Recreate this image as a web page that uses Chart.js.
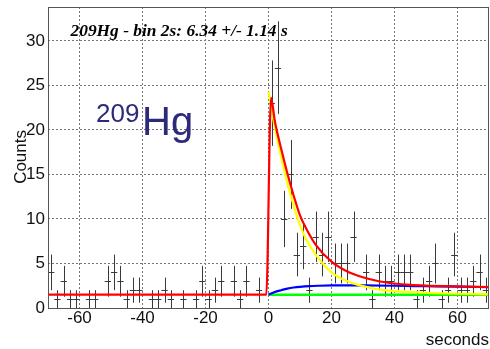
<!DOCTYPE html>
<html><head><meta charset="utf-8">
<script src="https://cdn.jsdelivr.net/npm/chart.js@4"></script>
<style>html,body{margin:0;padding:0;background:#fff}canvas{display:block}</style>
</head><body>
<canvas id="c" width="490" height="349"></canvas>
<script>
// ---- data ----
const binCenters = [-69,-67,-65,-63,-61,-59,-57,-55,-53,-51,
  -49,-47,-45,-43,-41,-39,-37,-35,-33,-31,
  -29,-27,-25,-23,-21,-19,-17,-15,-13,-11,
  -9,-7,-5,-3,-1,1,3,5,7,9,
  11,13,15,17,19,21,23,25,27,29,
  31,33,35,37,39,41,43,45,47,49,
  51,53,55,57,59,61,63,65,67,69];
const counts = [4,1,3,1,1,0,1,1,0,3,
  4,3,1,2,2,0,1,1,2,1,
  0,1,0,1,3,1,2,3,0,3,
  1,3,0,2,0,23,27,10,15,6,
  7,2,8,6,8,5,5,5,8,0,
  4,1,4,3,3,4,4,4,1,2,
  3,5,1,2,6,2,2,3,4,2];
const binHalfWidth = 1;

const totalFitX = [-70,-0.7,0.8,2,4,6,8,10,12,15,20,25,30,35,40,45,50,60,70];
const totalFitY = [1.5,1.5,23.6,21.0,17.9,15.1,12.6,10.4,8.9,7.1,5.2,4.1,3.45,3.0,2.75,2.6,2.52,2.43,2.36];
const parentFitX = [0,2,4,6,8,10,12,15,20,25,30,35,40,45,50,60,70];
const parentFitY = [24.3,20.3,17.0,14.0,11.5,9.3,7.7,6.0,4.0,3.0,2.45,2.1,1.9,1.78,1.7,1.6,1.54];
const daughterFitX = [0,2,4,6,8,10,13,16,20,25,30,40,50,60,70];
const daughterFitY = [1.5,1.8,2.0,2.18,2.3,2.38,2.46,2.5,2.53,2.54,2.53,2.5,2.45,2.4,2.34];
const bgFitX = [0,70];
const bgFitY = [1.5,1.5];

const xTickValues = [-60,-40,-20,0,20,40,60];
const yTickValues = [0,5,10,15,20,25,30];
const xRange = [-70,70];
const yRange = [0,33.8];

const titleText = '209Hg - bin 2s: 6.34 +/- 1.14 s';
const yTitle = 'Counts';
const xTitle = 'seconds';
const isoMass = '209';
const isoSymbol = 'Hg';

const pts = (xs, ys) => xs.map((v,i)=>({x:v, y:ys[i]}));

const errorBars = {
  id:'errorBars',
  beforeDatasetsDraw(chart){
    const {ctx, chartArea:a, scales:{x,y}} = chart;
    ctx.save();
    ctx.beginPath(); ctx.rect(a.left,a.top,a.right-a.left,a.bottom-a.top); ctx.clip();
    ctx.strokeStyle='#3a3a3a'; ctx.lineWidth=1;
    ctx.beginPath();
    binCenters.forEach((b,i)=>{
      const n=counts[i]; if(n<=0) return;
      const e=Math.sqrt(n);
      const px=Math.round(x.getPixelForValue(b))+0.5;
      const py=Math.round(y.getPixelForValue(n))+0.5;
      ctx.moveTo(px, y.getPixelForValue(n-e)); ctx.lineTo(px, y.getPixelForValue(n+e));
      ctx.moveTo(x.getPixelForValue(b-binHalfWidth), py); ctx.lineTo(x.getPixelForValue(b+binHalfWidth), py);
    });
    ctx.stroke(); ctx.restore();
  }
};

const decorations = {
  id:'decorations',
  afterDraw(chart){
    const {ctx, chartArea:a} = chart;
    ctx.save();
    ctx.strokeStyle='#555'; ctx.lineWidth=1;
    ctx.strokeRect(Math.round(a.left)+0.5, Math.round(a.top)+0.5, Math.round(a.right-a.left)-1, Math.round(a.bottom-a.top));
    // title
    ctx.fillStyle='#000';
    ctx.font="italic bold 17.4px 'Liberation Serif'";
    ctx.textAlign='left'; ctx.textBaseline='alphabetic';
    ctx.fillText(titleText, 70.5, 35.5);
    // isotope label
    ctx.fillStyle='#2d2a7a';
    ctx.font="26px 'Liberation Sans'";
    ctx.fillText(isoMass, 96, 122);
    ctx.font="40px 'Liberation Sans'";
    ctx.fillText(isoSymbol, 142, 135);
    // axis titles
    ctx.fillStyle='#111';
    ctx.font="17px 'Liberation Sans'";
    ctx.textAlign='right';
    ctx.fillText(xTitle, 489, 345);
    ctx.translate(26, 130);
    ctx.rotate(-Math.PI/2);
    ctx.textAlign='right';
    ctx.fillText(yTitle, 0, 0);
    ctx.restore();
  }
};

const gridCommon = {color:'#777', lineWidth:1, drawTicks:false};
new Chart(document.getElementById('c'), {
  type:'scatter',
  data:{datasets:[
    {data:pts(totalFitX,totalFitY), borderColor:'#ff0000', borderWidth:2.2, showLine:true, pointRadius:0, cubicInterpolationMode:'monotone'},
    {data:pts(parentFitX,parentFitY), borderColor:'#ffff00', borderWidth:2.2, showLine:true, pointRadius:0, cubicInterpolationMode:'monotone'},
    {data:pts(daughterFitX,daughterFitY), borderColor:'#0000ff', borderWidth:2.2, showLine:true, pointRadius:0, cubicInterpolationMode:'monotone'},
    {data:pts(bgFitX,bgFitY), borderColor:'#00ff00', borderWidth:2.5, showLine:true, pointRadius:0}
  ]},
  options:{
    responsive:false, animation:false, devicePixelRatio:1,
    layout:{padding:{top:7,right:1,left:0,bottom:0}},
    plugins:{legend:{display:false}, tooltip:{enabled:false}},
    scales:{
      x:{type:'linear', min:xRange[0], max:xRange[1],
        afterBuildTicks:(s)=>{s.ticks=xTickValues.map(v=>({value:v}));},
        afterFit:(s)=>{s.height=41; s.paddingLeft=0; s.paddingRight=0;},
        grid:gridCommon, border:{display:false, dash:[2,2]},
        ticks:{padding:0, color:'#111', font:{family:"'Liberation Sans'", size:17}, maxRotation:0, autoSkip:false}},
      y:{type:'linear', min:yRange[0], max:yRange[1],
        afterBuildTicks:(s)=>{s.ticks=yTickValues.map(v=>({value:v}));},
        afterFit:(s)=>{s.width=48; s.paddingTop=0; s.paddingBottom=0;},
        grid:gridCommon, border:{display:false, dash:[2,2]},
        ticks:{padding:3, color:'#111', font:{family:"'Liberation Sans'", size:17}, autoSkip:false}}
    }
  },
  plugins:[errorBars, decorations]
});
</script>
</body></html>
